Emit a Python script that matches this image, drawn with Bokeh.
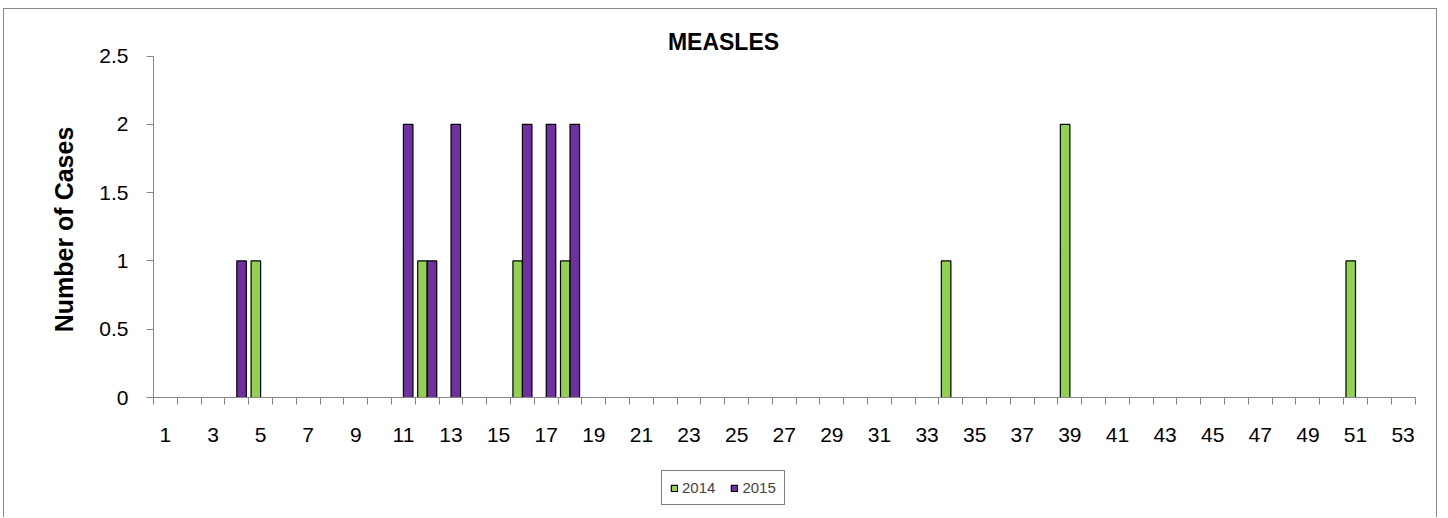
import math
from bokeh.plotting import figure
from bokeh.models import (Range1d, FixedTicker, CustomJSTickFormatter, Legend, LegendItem,
                          ColumnDataSource, Label)
from bokeh.transform import dodge
from bokeh.embed import file_html
from bokeh.resources import INLINE

# ---- data ----
weeks = list(range(1, 54))
cases_2014 = [0, 0, 0, 0, 1, 0, 0, 0, 0, 0,
              0, 1, 0, 0, 0, 1, 0, 1, 0, 0,
              0, 0, 0, 0, 0, 0, 0, 0, 0, 0,
              0, 0, 0, 1, 0, 0, 0, 0, 2, 0,
              0, 0, 0, 0, 0, 0, 0, 0, 0, 0,
              1, 0, 0]
cases_2015 = [0, 0, 0, 1, 0, 0, 0, 0, 0, 0,
              2, 1, 2, 0, 0, 2, 2, 2, 0, 0,
              0, 0, 0, 0, 0, 0, 0, 0, 0, 0,
              0, 0, 0, 0, 0, 0, 0, 0, 0, 0,
              0, 0, 0, 0, 0, 0, 0, 0, 0, 0,
              0, 0, 0]
series_names = ["2014", "2015"]
y_ticks = [0, 0.5, 1, 1.5, 2, 2.5]
x_tick_labels = [w for w in weeks if w % 2 == 1]

FONT = "Liberation Sans"
GRAY = "#868686"
GREEN = "#92D050"
PURPLE = "#7030A0"

# ---- layout (pixels) ----
CANVAS_W, CANVAS_H = 1434, 509
PLOT_LEFT, PLOT_RIGHT = 149, 1410.5      # canvas x of the axis box
PLOT_TOP, PLOT_ZERO = 46.5, 388.0        # canvas y of 2.5 and of 0
px_x = (PLOT_RIGHT - PLOT_LEFT) / 53.0
px_y = (PLOT_ZERO - PLOT_TOP) / 2.5
x_start = 0.5 - PLOT_LEFT / px_x
x_end = 53.5 + (CANVAS_W - PLOT_RIGHT) / px_x
y_end = PLOT_ZERO / px_y
y_start = -(CANVAS_H - PLOT_ZERO) / px_y

p = figure(width=CANVAS_W, height=CANVAS_H, output_backend="svg", toolbar_location=None,
           title=None,
           x_range=Range1d(x_start, x_end), y_range=Range1d(y_start, y_end),
           min_border_left=0, min_border_right=0, min_border_top=0, min_border_bottom=0)
p.styles = {"border-left": "1px solid #868686", "border-top": "1px solid #868686",
            "border-right": "1px solid #868686", "margin-left": "3px", "margin-top": "8px"}
p.background_fill_color = "white"
p.border_fill_color = "white"
p.outline_line_color = None
p.xgrid.grid_line_color = None
p.ygrid.grid_line_color = None

src14 = ColumnDataSource(dict(week=[w for w, v in zip(weeks, cases_2014) if v > 0],
                              cases=[v for v in cases_2014 if v > 0]))
src15 = ColumnDataSource(dict(week=[w for w, v in zip(weeks, cases_2015) if v > 0],
                              cases=[v for v in cases_2015 if v > 0]))

r14 = p.vbar(x=dodge("week", -0.2), top="cases", bottom=0, width=0.4, source=src14,
             fill_color=GREEN, line_color="black", line_width=1.2)
r15 = p.vbar(x=dodge("week", 0.2), top="cases", bottom=0, width=0.4, source=src15,
             fill_color=PURPLE, line_color="black", line_width=1.2)

# x axis at value 0
xa = p.xaxis[0]
xa.fixed_location = 0
xa.bounds = (0.5, 53.5)
xa.ticker = FixedTicker(ticks=x_tick_labels, minor_ticks=[w - 0.5 for w in weeks] + [53.5])
xa.axis_line_color = GRAY
xa.major_tick_line_color = None
xa.major_tick_out = 7
xa.minor_tick_line_color = GRAY
xa.minor_tick_out = 7
xa.minor_tick_in = 0
xa.major_label_standoff = 23
xa.major_label_text_font = FONT
xa.major_label_text_font_size = "21px"
xa.major_label_text_color = "black"

# y axis at week 0.5
ya = p.yaxis[0]
ya.fixed_location = 0.5
ya.bounds = (0, 2.5)
ya.ticker = FixedTicker(ticks=y_ticks)
ya.formatter = CustomJSTickFormatter(code="return String(tick);")
ya.axis_line_color = GRAY
ya.major_tick_line_color = GRAY
ya.major_tick_out = 7
ya.major_tick_in = 0
ya.minor_tick_line_color = None
ya.major_label_standoff = 18
ya.major_label_text_font = FONT
ya.major_label_text_font_size = "21px"
ya.major_label_text_color = "black"

# y axis title
ylab = Label(x=59, y=CANVAS_H - 220, x_units="screen", y_units="screen",
             text="Number of Cases", angle=math.pi / 2,
             text_font=FONT, text_font_style="bold", text_font_size="25px",
             text_align="center", text_baseline="alphabetic", text_color="black")
p.add_layout(ylab)

# title
title = Label(x=719, y=CANVAS_H - 32, x_units="screen", y_units="screen", text="MEASLES",
              text_font=FONT, text_font_style="bold", text_font_size="23px",
              text_align="center", text_baseline="alphabetic", text_color="black")
p.add_layout(title)

# legend
legend = Legend(items=[LegendItem(label=series_names[0], renderers=[r14]),
                       LegendItem(label=series_names[1], renderers=[r15])],
                orientation="horizontal", location=(657, 13),
                glyph_width=8, glyph_height=8, label_standoff=4, spacing=15,
                padding=8, margin=0, label_height=17,
                label_text_font=FONT, label_text_font_size="15px",
                border_line_color="black", border_line_width=1,
                background_fill_color="white", background_fill_alpha=1)
p.add_layout(legend, "center")

open("out.html", "w").write(file_html(p, INLINE))
